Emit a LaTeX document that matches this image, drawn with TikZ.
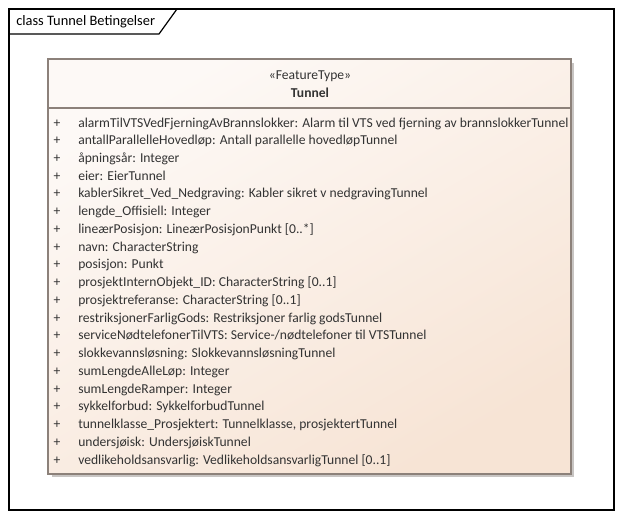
\documentclass[tikz,border=0pt]{standalone}
\usepackage{fontspec}
\setmainfont{Carlito}
\usepackage{xcolor}
\usepackage{tikz}

\definecolor{boxline}{HTML}{8C817A}
\definecolor{boxtop}{HTML}{FDF9F6}
\definecolor{boxbottom}{HTML}{F7E4D5}
\definecolor{shadowgrey}{HTML}{C8C5C3}
\definecolor{attrtext}{HTML}{333333}

\tikzset{
  attr/.style={anchor=base west, inner sep=0pt, font=\fontsize{10.2}{11}\selectfont, text=attrtext},
  plus/.style={anchor=base, inner sep=0pt, font=\fontsize{10.2}{11}\selectfont, text=attrtext}
}

\begin{document}
\begin{tikzpicture}[x=0.75pt, y=-0.75pt]
    \useasboundingbox (0,0) rectangle (622,519);
    % frame and tab
    \draw[color=black, line width=0.9pt] (9,9) rectangle (614,510);
    \draw[color=black, line width=0.9pt] (9,34) -- (159,34) -- (177,9);
    \node[attr, text=black, font=\fontsize{10.8}{12}\selectfont] (title) at (16,25) {class Tunnel Betingelser};
    % class box
    \fill[shadowgrey] (52,63) rectangle (574,477);
    \shade[top color=boxtop, bottom color=boxbottom, shading angle=30] (48,59) rectangle (571,474);
    \draw[color=boxline, line width=0.8pt] (48,59) rectangle (571,474);
    \draw[color=boxline, line width=0.8pt] (48,108) -- (571,108);
    \node[plus] (stereo) at (310,79) {«FeatureType»};
    \node[plus, font=\fontsize{10.2}{11}\bfseries] (name) at (310,97) {Tunnel};
    % attributes
    \foreach \row/\txt in {
      1/{alarmTilVTSVedFjerningAvBrannslokker: Alarm til VTS ved fjerning av brannslokkerTunnel},
      2/{antallParallelleHovedløp: Antall parallelle hovedløpTunnel},
      3/{åpningsår: Integer},
      4/{eier: EierTunnel},
      5/{kablerSikret\_Ved\_Nedgraving: Kabler sikret v nedgravingTunnel},
      6/{lengde\_Offisiell: Integer},
      7/{lineærPosisjon: LineærPosisjonPunkt [0..*]},
      8/{navn: CharacterString},
      9/{posisjon: Punkt},
      10/{prosjektInternObjekt\_ID: CharacterString [0..1]},
      11/{prosjektreferanse: CharacterString [0..1]},
      12/{restriksjonerFarligGods: Restriksjoner farlig godsTunnel},
      13/{serviceNødtelefonerTilVTS: Service-/nødtelefoner til VTSTunnel},
      14/{slokkevannsløsning: SlokkevannsløsningTunnel},
      15/{sumLengdeAlleLøp: Integer},
      16/{sumLengdeRamper: Integer},
      17/{sykkelforbud: SykkelforbudTunnel},
      18/{tunnelklasse\_Prosjektert: Tunnelklasse, prosjektertTunnel},
      19/{undersjøisk: UndersjøiskTunnel},
      20/{vedlikeholdsansvarlig: VedlikeholdsansvarligTunnel [0..1]}}
    {
      \node[plus] (plus\row) at (57,{123+4+17.74*(\row-1)}) {+};
      \node[attr] (attr\row) at (78,{123+4+17.74*(\row-1)}) {\txt};
    }
\end{tikzpicture}
\end{document}
